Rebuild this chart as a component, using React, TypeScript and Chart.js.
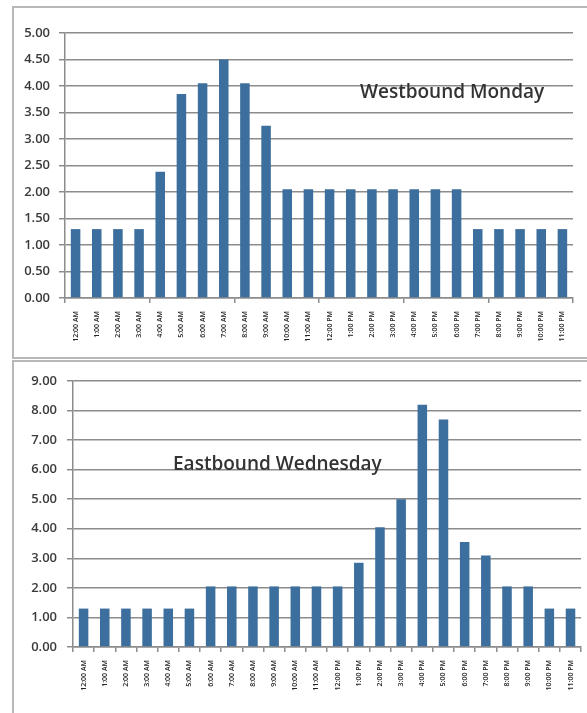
import React, { useEffect, useRef } from "react";
import { Chart, registerables } from "chart.js";

Chart.register(...registerables);

const hourLabels = [
  "12:00 AM", "1:00 AM", "2:00 AM", "3:00 AM", "4:00 AM", "5:00 AM",
  "6:00 AM", "7:00 AM", "8:00 AM", "9:00 AM", "10:00 AM", "11:00 AM",
  "12:00 PM", "1:00 PM", "2:00 PM", "3:00 PM", "4:00 PM", "5:00 PM",
  "6:00 PM", "7:00 PM", "8:00 PM", "9:00 PM", "10:00 PM", "11:00 PM",
];

const westboundMonday = [
  1.3, 1.3, 1.3, 1.3, 2.38, 3.85, 4.05, 4.5, 4.05, 3.25, 2.05, 2.05,
  2.05, 2.05, 2.05, 2.05, 2.05, 2.05, 2.05, 1.3, 1.3, 1.3, 1.3, 1.3,
];

const eastboundWednesday = [
  1.3, 1.3, 1.3, 1.3, 1.3, 1.3, 2.05, 2.05, 2.05, 2.05, 2.05, 2.05,
  2.05, 2.85, 4.05, 5.0, 8.2, 7.7, 3.55, 3.1, 2.05, 2.05, 1.3, 1.3,
];

const westTickValues = [0, 0.5, 1, 1.5, 2, 2.5, 3, 3.5, 4, 4.5, 5];
const eastTickValues = [0, 1, 2, 3, 4, 5, 6, 7, 8, 9];

const westTitle = "Westbound Monday";
const eastTitle = "Eastbound Wednesday";

const BAR = "#3c6f9d";
const GRID = "#8c8c8c";
const TEXT = "#3a3a3a";

const titlePlugin = {
  id: "panelTitle",
  afterDraw(chart: any, _args: any, opts: any) {
    const ctx = chart.ctx;
    ctx.save();
    ctx.font = opts.font;
    ctx.fillStyle = opts.color;
    ctx.textBaseline = "alphabetic";
    ctx.textAlign = "left";
    ctx.fillText(opts.text, opts.x, opts.y);
    ctx.restore();
  },
};

function makeConfig(
  values: number[],
  ticks: number[],
  o: {
    yWidth: number;
    xHeight: number;
    padding: any;
    tickEvery: number;
    labelPad: number;
    title: any;
  }
): any {
  const max = ticks[ticks.length - 1];
  return {
    type: "bar",
    data: {
      labels: hourLabels,
      datasets: [
        {
          data: values,
          backgroundColor: BAR,
          borderWidth: 0,
          barPercentage: 0.45,
          categoryPercentage: 1,
        },
      ],
    },
    plugins: [titlePlugin],
    options: {
      animation: false,
      responsive: true,
      maintainAspectRatio: false,
      events: [],
      layout: { padding: o.padding },
      plugins: {
        legend: { display: false },
        tooltip: { enabled: false },
        title: { display: false },
        panelTitle: o.title,
      },
      scales: {
        x: {
          offset: true,
          ticks: {
            autoSkip: false,
            minRotation: 90,
            maxRotation: 90,
            padding: 8,
            color: "#222222",
            font: { family: "Open Sans", size: 7, weight: "600" },
          },
          grid: {
            drawOnChartArea: false,
            drawTicks: true,
            tickLength: 5,
            offset: true,
            lineWidth: 1.5,
            color: (ctx: any) => {
              const i = ctx.index === undefined ? hourLabels.length : ctx.index;
              return i % o.tickEvery === 0 ? GRID : "rgba(0,0,0,0)";
            },
          },
          border: { display: true, color: GRID, width: 1.5 },
          afterFit: (s: any) => {
            s.height = o.xHeight;
          },
        },
        y: {
          min: 0,
          max: max,
          afterBuildTicks: (s: any) => {
            s.ticks = ticks.map((v) => ({ value: v }));
          },
          ticks: {
            padding: o.labelPad,
            color: TEXT,
            font: { family: "Open Sans", size: 13, weight: "600" },
            callback: (v: any) => Number(v).toFixed(2),
          },
          grid: {
            color: GRID,
            lineWidth: 1.5,
            tickLength: 6,
          },
          border: { display: true, color: GRID, width: 1.5 },
          afterFit: (s: any) => {
            s.width = o.yWidth;
          },
        },
      },
    },
  };
}

export default function App() {
  const topRef = useRef<HTMLCanvasElement | null>(null);
  const botRef = useRef<HTMLCanvasElement | null>(null);

  useEffect(() => {
    const charts: Chart[] = [];
    if (topRef.current) {
      charts.push(
        new Chart(
          topRef.current,
          makeConfig(westboundMonday, westTickValues, {
            yWidth: 52,
            xHeight: 60,
            padding: { top: 26, right: 14, left: 0, bottom: 0 },
            tickEvery: 4,
            labelPad: 9,
            title: {
              text: westTitle,
              x: 347,
              y: 91,
              font: "600 19px 'Open Sans'",
              color: "#333333",
            },
          })
        )
      );
    }
    if (botRef.current) {
      charts.push(
        new Chart(
          botRef.current,
          makeConfig(eastboundWednesday, eastTickValues, {
            yWidth: 60,
            xHeight: 66,
            padding: { top: 19, right: 4, left: 0, bottom: 0 },
            tickEvery: 1,
            labelPad: 10,
            title: {
              text: eastTitle,
              x: 160,
              y: 108,
              font: "600 19px 'Open Sans'",
              color: "#333333",
            },
          })
        )
      );
    }
    return () => charts.forEach((c) => c.destroy());
  }, []);

  return (
    <div
      style={{
        position: "absolute",
        left: 0,
        top: 0,
        width: 587,
        height: 713,
        overflow: "hidden",
        background: "#ffffff",
      }}
    >
      <div
        style={{
          position: "absolute",
          left: 12,
          top: 6,
          width: 600,
          height: 353,
          border: "2px solid #b8b8b8",
          boxSizing: "border-box",
        }}
      />
      <div
        style={{
          position: "absolute",
          left: 12,
          top: 360,
          width: 600,
          height: 380,
          border: "2px solid #b8b8b8",
          boxSizing: "border-box",
        }}
      />
      <div style={{ position: "absolute", left: 13, top: 7, width: 574, height: 351 }}>
        <canvas ref={topRef} />
      </div>
      <div style={{ position: "absolute", left: 13, top: 362, width: 574, height: 351 }}>
        <canvas ref={botRef} />
      </div>
    </div>
  );
}
